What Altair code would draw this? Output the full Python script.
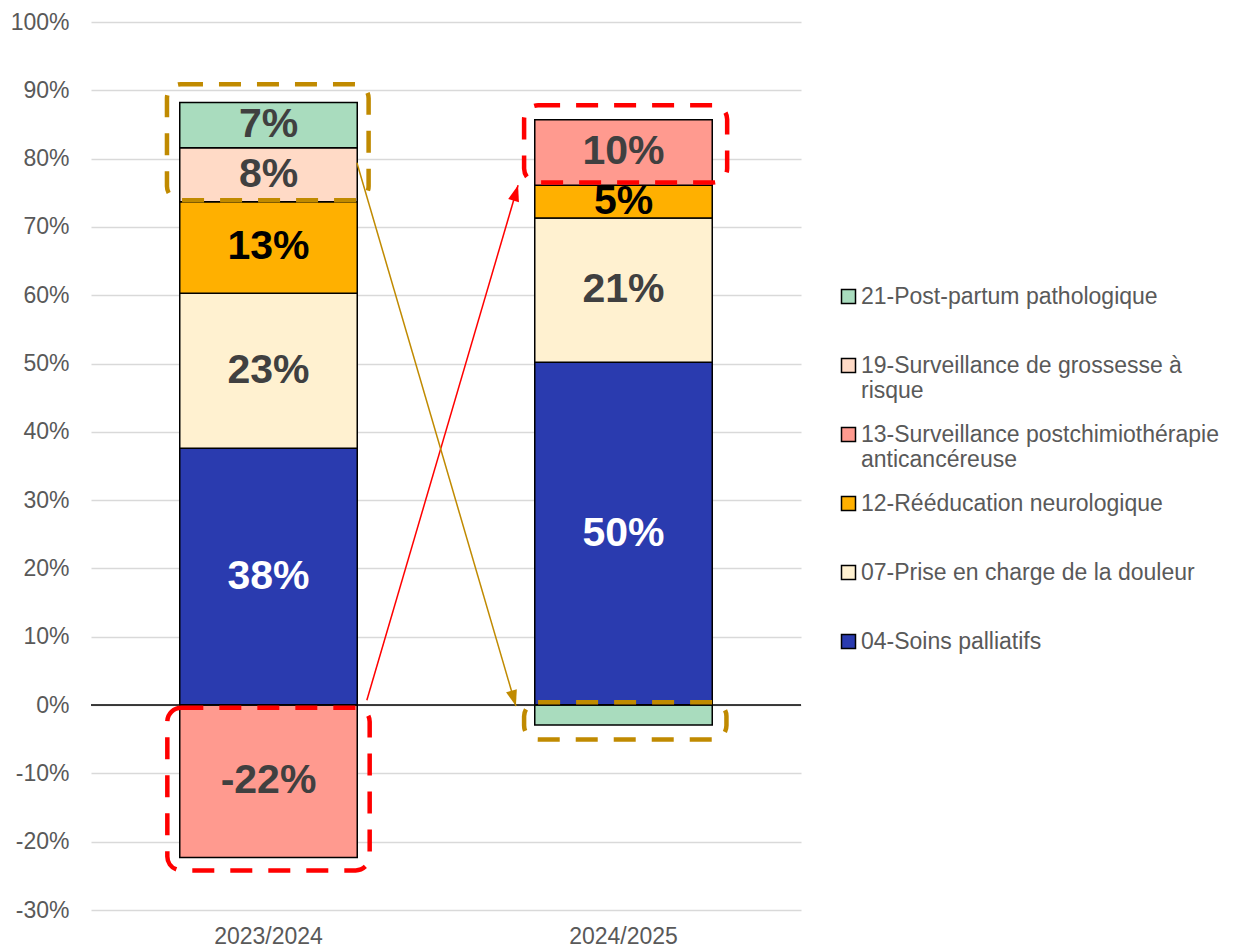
import altair as alt
import pandas as pd

# ---------------- data ----------------
years = ["2023/2024", "2024/2025"]
categories = [
    "04-Soins palliatifs",
    "07-Prise en charge de la douleur",
    "12-Rééducation neurologique",
    "13-Surveillance postchimiothérapie anticancéreuse",
    "19-Surveillance de grossesse à risque",
    "21-Post-partum pathologique",
]
values_2023_2024 = [0.376, 0.227, 0.134, -0.223, 0.079, 0.066]
values_2024_2025 = [0.502, 0.211, 0.048, 0.096, 0.0, -0.029]

# legend order (top to bottom) and wrapped legend text
legend_order = [categories[i] for i in [5, 4, 3, 2, 1, 0]]
legend_wrap = {
    categories[4]: ["19-Surveillance de grossesse à", "risque"],
    categories[3]: ["13-Surveillance postchimiothérapie", "anticancéreuse"],
}

# annotation boxes (x in category units: 0 = first bar centre, 1 = second)
box_x0 = [-0.286, -0.285, 0.720, 0.720]
box_x1 = [0.282, 0.285, 1.292, 1.290]
box_y0 = [0.909, -0.004, 0.878, 0.004]
box_y1 = [0.739, -0.242, 0.765, -0.0505]
box_kind = ["gold", "red", "red", "gold"]

# arrows
arrow_x0 = [0.277, 0.249]
arrow_y0 = [0.007, 0.794]
arrow_x1 = [0.703, 0.697]
arrow_y1 = [0.761, -0.0015]
arrow_kind = ["red", "gold"]
arrow_angle = [16.3, 163.7]

# ---------------- styles ----------------
palette = {
    categories[0]: "#2A3BAF",
    categories[1]: "#FFF1D0",
    categories[2]: "#FFB000",
    categories[3]: "#FF9A8F",
    categories[4]: "#FFDAC6",
    categories[5]: "#A9DCBE",
}
GOLD = "#C08A00"
RED = "#FF0000"
FONT = "Liberation Sans"

df = pd.DataFrame({
    "year": [y for y in years for _ in categories],
    "cat": categories * 2,
    "value": values_2023_2024 + values_2024_2025,
    "ord": list(range(len(categories))) * 2,
})
boxes_df = pd.DataFrame({"x0": box_x0, "x1": box_x1, "y0": box_y0, "y1": box_y1, "kind": box_kind})
arrows_df = pd.DataFrame({"x0": arrow_x0, "y0": arrow_y0, "x1": arrow_x1, "y1": arrow_y1,
                          "kind": arrow_kind, "angle": arrow_angle})

label_expr_parts = []
for k, lines in legend_wrap.items():
    label_expr_parts.append("datum.label == '%s' ? ['%s', '%s']" % (k, lines[0], lines[1]))
label_expr = " : ".join(label_expr_parts) + " : [datum.label, ' ']"

yscale = alt.Scale(domain=[-0.3, 1.0], nice=False, zero=False)
xscale = alt.Scale(domain=years, paddingInner=0.5, paddingOuter=0.25)
uscale = alt.Scale(domain=[-0.5, 1.5], nice=False, zero=False)
kind_scale = alt.Scale(domain=["gold", "red"], range=[GOLD, RED])

base = alt.Chart(df).transform_filter("datum.value != 0").transform_stack(
    stack="value", groupby=["year"], as_=["v0", "v1"],
    sort=[alt.SortField("ord", order="ascending")],
).transform_calculate(mid="(datum.v0 + datum.v1) / 2",
                      lbl="round(datum.value * 100) + '%'")

bars = base.mark_bar(stroke="black", strokeWidth=1.5).encode(
    x=alt.X("year:N", scale=xscale, title=None,
            axis=alt.Axis(labelFont=FONT, labelFontSize=23, labelColor="#595959",
                          labelAngle=0, ticks=False, tickSize=0, domain=False,
                          labelPadding=15, grid=False)),
    y=alt.Y("v0:Q", scale=yscale, title=None,
            axis=alt.Axis(values=[round(-0.3 + 0.1 * i, 2) for i in range(14)],
                          labelExpr="round(datum.value * 100) + '%'",
                          labelFont=FONT, labelFontSize=23, labelColor="#595959",
                          ticks=False, tickSize=0, domain=False, labelPadding=22,
                          grid=True, gridColor="#D9D9D9", gridWidth=1.5)),
    y2="v1:Q",
    color=alt.Color("cat:N", scale=alt.Scale(domain=legend_order,
                                             range=[palette[c] for c in legend_order]),
                    legend=alt.Legend(orient="none", legendX=746, legendY=263, title=None,
                                      symbolType="square", symbolSize=196,
                                      symbolStrokeColor="black", symbolStrokeWidth=1.5,
                                      labelFont=FONT, labelFontSize=23, labelColor="#595959",
                                      labelExpr=label_expr, labelLimit=0, labelOffset=1,
                                      rowPadding=20)),
)

zero = alt.Chart(pd.DataFrame({"z": [0]})).mark_rule(color="black", strokeWidth=1.5).encode(
    y=alt.Y("z:Q", scale=yscale, title=None))

labels = base.transform_filter("abs(datum.value) >= 0.04").mark_text(
    font=FONT, fontSize=41, fontWeight="bold", baseline="middle").encode(
    x=alt.X("year:N", scale=xscale),
    y=alt.Y("mid:Q", scale=yscale, title=None),
    text="lbl:N",
    color=alt.when(alt.datum.cat == categories[0]).then(alt.value("white"))
             .when(alt.datum.cat == categories[2]).then(alt.value("black"))
             .otherwise(alt.value("#404040")),
)

boxes = alt.Chart(boxes_df).mark_rect(fillOpacity=0, strokeWidth=4.5, strokeDash=[22, 16],
                                      cornerRadius=14).encode(
    x=alt.X("x0:Q", scale=uscale, axis=None),
    x2="x1:Q",
    y=alt.Y("y0:Q", scale=yscale, title=None),
    y2="y1:Q",
    stroke=alt.Stroke("kind:N", scale=kind_scale, legend=None),
)

shafts = alt.Chart(arrows_df).mark_rule(strokeWidth=1.5).encode(
    x=alt.X("x0:Q", scale=uscale, axis=None),
    x2="x1:Q",
    y=alt.Y("y0:Q", scale=yscale, title=None),
    y2="y1:Q",
    stroke=alt.Stroke("kind:N", scale=kind_scale, legend=None),
)

heads = alt.Chart(arrows_df).mark_point(filled=True, opacity=1, size=256,
                                        shape="M0,0L0.7,2L-0.7,2Z").encode(
    x=alt.X("x1:Q", scale=uscale, axis=None),
    y=alt.Y("y1:Q", scale=yscale, title=None),
    angle=alt.Angle("angle:Q", scale=None),
    fill=alt.Fill("kind:N", scale=kind_scale, legend=None),
)

main = alt.layer(bars, zero, labels)
annot = alt.layer(boxes, shafts, heads)

chart = alt.layer(main, annot).resolve_scale(x="independent").properties(
    width=710, height=888,
    autosize=alt.AutoSizeParams(type="none"),
    padding={"left": 91, "top": 22, "right": 436, "bottom": 39},
).configure(background="white").configure_view(stroke=None)

chart.save("out.html", embed_options={"renderer": "svg", "actions": False})
